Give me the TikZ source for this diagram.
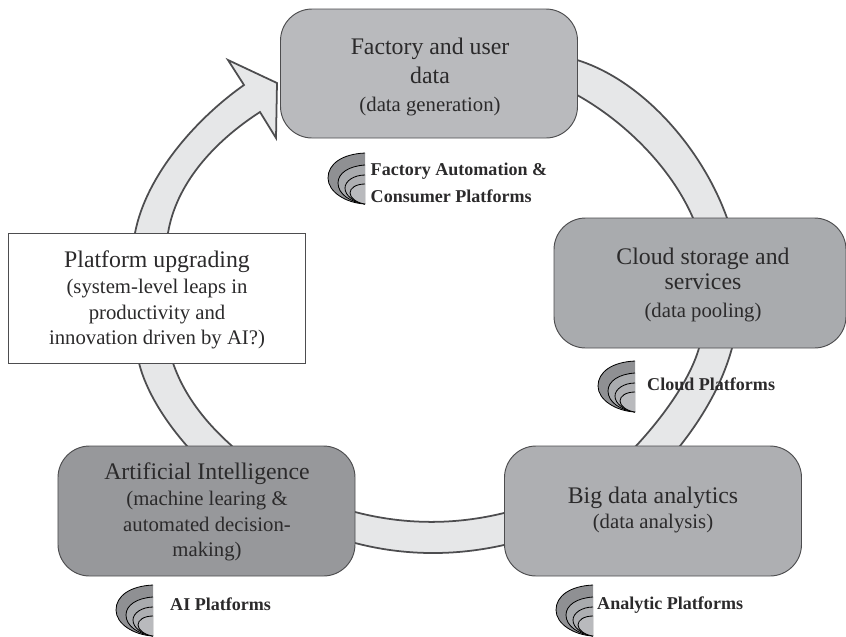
\documentclass[tikz,border=0pt]{standalone}
\usepackage{fontspec}
\setmainfont{Liberation Serif}
\usetikzlibrary{positioning}

\definecolor{factorygrey}{HTML}{B9BABD}
\definecolor{cloudgrey}{HTML}{A9ABAE}
\definecolor{analyticgrey}{HTML}{AEAFB2}
\definecolor{aigrey}{HTML}{97989B}
\definecolor{bandgrey}{HTML}{E6E7E8}
\definecolor{linegrey}{HTML}{4D4D4F}
\definecolor{inkgrey}{HTML}{2B2A2B}

\tikzset{
    stagebox/.style={draw=linegrey, line width=0.8pt, minimum width=8.91cm, minimum height=3.9cm, inner sep=0pt, rounded corners=0.95cm},
    upgradebox/.style={draw=linegrey, line width=0.8pt, fill=white, minimum width=8.91cm, minimum height=3.9cm, inner sep=0pt},
    stagetext/.style={align=center, text=inkgrey, font=\fontsize{20.3}{22}\selectfont},
    platformtext/.style={align=left, anchor=base west, text=inkgrey, inner sep=0pt, font=\fontsize{15.4}{23}\selectfont\bfseries},
    band/.style={draw=linegrey, line width=1.5pt, fill=bandgrey}
}
\newcommand{\subline}[1]{{\fontsize{17.7}{22}\selectfont #1}}

\begin{document}
\begin{tikzpicture}[x=0.03cm, y=-0.03cm]
    \useasboundingbox (0,0) rectangle (846,636);

    % ring with arrowhead, its hidden parts run behind the boxes
    \filldraw[band] (244,85) .. controls (197,118) and (146,175) .. (135,233)
        .. controls (124,275) and (128,325) .. (139,363)
        .. controls (146,391) and (165,421) .. (187,446)
        .. controls (235,500) and (300,530) .. (355,543)
        .. controls (405,556) and (455,556) .. (504,545)
        .. controls (570,530) and (630,495) .. (680,446)
        .. controls (702,418) and (722,385) .. (732,348)
        .. controls (740,305) and (738,262) .. (727,218)
        .. controls (702,148) and (642,80) .. (577,60)
        -- (520,35) -- (520,72) -- (577,95)
        .. controls (622,120) and (670,165) .. (693,218)
        .. controls (706,260) and (708,305) .. (699,348)
        .. controls (690,380) and (662,418) .. (636,446)
        .. controls (600,480) and (550,505) .. (504,513)
        .. controls (455,525) and (405,525) .. (355,512)
        .. controls (310,503) and (268,482) .. (232,446)
        .. controls (205,422) and (184,395) .. (173,363)
        .. controls (160,320) and (158,275) .. (168,233)
        .. controls (176,185) and (212,143) .. (260,112)
        -- (276,138) -- (277,83) -- (228,60) -- cycle;

    \node[stagebox, fill=factorygrey, minimum height=3.87cm] (factory) at (429,73.5) {};
    \node[stagebox, fill=cloudgrey, minimum width=8.76cm] (cloud) at (700,283) {};
    \node[stagebox, fill=analyticgrey] (analytic) at (653,511) {};
    \node[stagebox, fill=aigrey] (ai) at (206.5,511) {};
    \node[upgradebox] (upgrade) at (156.5,298) {};

    \node[stagetext] (factorytext) at (430,77) {Factory and user\\[2.7pt] data\\[2.7pt] \subline{(data generation)}};
    \node[stagetext] (cloudtext) at (703,285) {Cloud storage and\\ services\\[2pt] \subline{(data pooling)}};
    \node[stagetext] (analytictext) at (653,510) {Big data analytics\\ \subline{(data analysis)}};
    \node[stagetext] (aitext) at (207,512) {Artificial Intelligence\\ \subline{(machine learing \&}\\ \subline{automated decision-}\\ \subline{making)}};
    \node[stagetext] (upgradetext) at (157,300) {Platform upgrading\\ \subline{(system-level leaps in}\\ \subline{productivity and}\\ \subline{innovation driven by AI?)}};

    % stacked half ellipses beside each platform label
    \foreach \x/\y in {328/153, 598/361, 116/585, 556/585} {
        \begin{scope}[shift={(\x,\y)}, draw=black, line width=0.7pt]
            \filldraw[fill=aigrey!95!black] (37,0) .. controls (14,1) and (0,11) .. (0,25) .. controls (0,39) and (18,50) .. (37,51);
            \filldraw[fill=cloudgrey] (37,12) .. controls (21,13) and (10,20) .. (10,30) .. controls (10,41) and (22,49) .. (37,51);
            \filldraw[fill=analyticgrey] (37,22) .. controls (26,22) and (17,28) .. (17,35) .. controls (17,43) and (26,49) .. (37,51);
            \filldraw[fill=factorygrey] (37,31) .. controls (28,31) and (22,35) .. (22,40) .. controls (22,45) and (29,50) .. (37,51);
        \end{scope}
    }

    \node[platformtext] (factorylabel) at (370.5,202) {Factory Automation \&\\ Consumer Platforms};
    \node[platformtext] (cloudlabel) at (647,390) {Cloud Platforms};
    \node[platformtext] (ailabel) at (170,610) {AI Platforms};
    \node[platformtext] (analyticlabel) at (597,609) {Analytic Platforms};
\end{tikzpicture}
\end{document}
